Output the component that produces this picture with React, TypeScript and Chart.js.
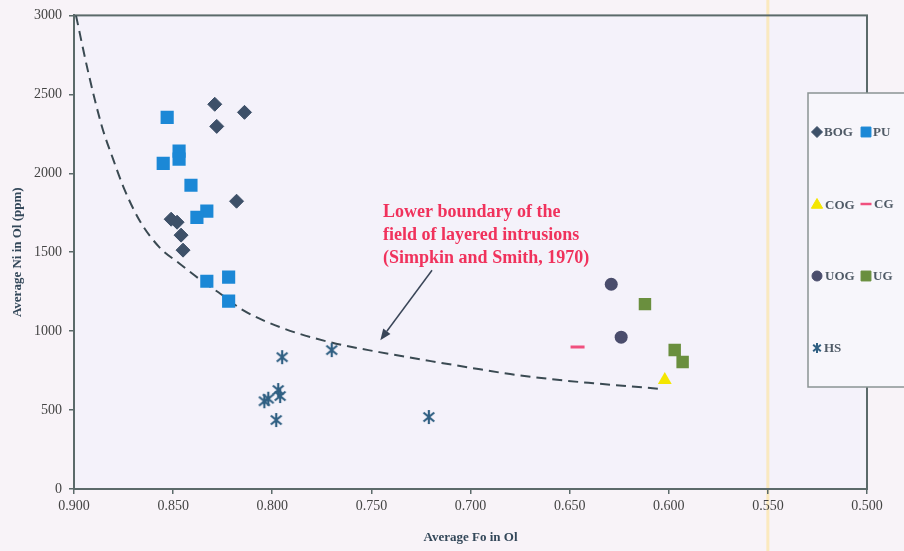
import React, { useEffect, useRef } from 'react';
import { Chart, registerables } from 'chart.js';
import { drawPoint } from 'chart.js/helpers';

Chart.register(...registerables);

// ---- data ----
const bogFo = [0.829, 0.828, 0.814, 0.818, 0.851, 0.848, 0.846, 0.845];
const bogNi = [2437, 2297, 2386, 1823, 1709, 1690, 1608, 1513];

const puFo = [0.853, 0.847, 0.847, 0.855, 0.841, 0.833, 0.838, 0.822, 0.833, 0.822];
const puNi = [2354, 2140, 2090, 2063, 1924, 1760, 1721, 1342, 1316, 1190];

const cogFo = [0.602];
const cogNi = [690];

const cgFo = [0.646];
const cgNi = [899];

const uogFo = [0.629, 0.624];
const uogNi = [1297, 962];

const ugFo = [0.612, 0.597, 0.593];
const ugNi = [1171, 880, 804];

const hsFo = [0.795, 0.770, 0.797, 0.796, 0.804, 0.802, 0.798, 0.721];
const hsNi = [835, 880, 627, 589, 556, 572, 437, 456];

const curveFo = [0.899, 0.893, 0.886, 0.880, 0.875, 0.867, 0.857, 0.847, 0.836, 0.826, 0.815, 0.796, 0.771, 0.746, 0.720, 0.700, 0.680, 0.655, 0.638, 0.621, 0.603];
const curveNi = [3000, 2650, 2300, 2080, 1911, 1703, 1532, 1430, 1323, 1235, 1135, 1025, 930, 867, 810, 768, 728, 690, 670, 652, 633];

const annotationLines = ['Lower boundary of the', 'field of layered intrusions', '(Simpkin and Smith, 1970)'];

const xTicksMin = 0.5;
const xTicksMax = 0.9;
const yTicksMin = 0;
const yTicksMax = 3000;

const pts = (xs: number[], ys: number[]) => xs.map((x, i) => ({ x, y: ys[i] }));

const C_BOG = '#3d5068';
const C_PU = '#1b88d6';
const C_COG = '#f4e600';
const C_CG = '#f0507e';
const C_UOG = '#4a4d6c';
const C_UG = '#6a8f3e';
const C_HS = '#2f5f82';
const AXIS = '#5b6a6a';
const SERIF = '"Liberation Serif", "DejaVu Serif", serif';

function makeAsterisk(size: number, color: string, lw: number) {
  const c = document.createElement('canvas');
  c.width = size;
  c.height = size;
  const ctx = c.getContext('2d')!;
  ctx.strokeStyle = color;
  ctx.lineWidth = lw;
  ctx.lineCap = 'butt';
  const m = size / 2;
  const r = size / 2 - 1;
  ctx.beginPath();
  ctx.moveTo(m, m - r);
  ctx.lineTo(m, m + r);
  const a = (50 * Math.PI) / 180;
  ctx.moveTo(m - r * Math.sin(a), m - r * Math.cos(a));
  ctx.lineTo(m + r * Math.sin(a), m + r * Math.cos(a));
  ctx.moveTo(m + r * Math.sin(a), m - r * Math.cos(a));
  ctx.lineTo(m - r * Math.sin(a), m + r * Math.cos(a));
  ctx.stroke();
  return c;
}

export default function App() {
  const ref = useRef<HTMLCanvasElement>(null);

  useEffect(() => {
    const canvas = ref.current!;
    const asterisk = makeAsterisk(16, C_HS, 2.2);
    const asteriskSmall = makeAsterisk(12, C_HS, 2);

    const bgPlugin = {
      id: 'bg',
      beforeDraw(chart: any) {
        const { ctx, chartArea } = chart;
        ctx.save();
        ctx.fillStyle = '#f8f3f8';
        ctx.fillRect(0, 0, chart.width, chart.height);
        ctx.fillStyle = '#f4f2fa';
        ctx.fillRect(chartArea.left, chartArea.top, chartArea.right - chartArea.left, chartArea.bottom - chartArea.top);
        const xs = chart.scales.x.getPixelForValue(0.55);
        ctx.fillStyle = 'rgba(255, 222, 120, 0.45)';
        ctx.fillRect(xs - 1.5, 0, 3, chart.height);
        ctx.restore();
      },
      beforeDatasetsDraw(chart: any) {
        const { ctx, chartArea } = chart;
        ctx.save();
        ctx.strokeStyle = AXIS;
        ctx.lineWidth = 2;
        ctx.strokeRect(chartArea.left, chartArea.top, chartArea.right - chartArea.left, chartArea.bottom - chartArea.top);
        ctx.restore();
      },
      afterDatasetsDraw(chart: any) {
        const { ctx } = chart;
        const xs = chart.scales.x;
        const ys = chart.scales.y;
        ctx.save();
        ctx.fillStyle = '#f0325c';
        ctx.font = `bold 18px ${SERIF}`;
        ctx.textAlign = 'left';
        ctx.textBaseline = 'middle';
        const tx = xs.getPixelForValue(0.7441);
        const lineVals = [1753, 1608, 1462];
        annotationLines.forEach((t, i) => ctx.fillText(t, tx, ys.getPixelForValue(lineVals[i])));
        const x0 = xs.getPixelForValue(0.7194), y0 = ys.getPixelForValue(1386);
        const x1 = xs.getPixelForValue(0.7455), y1 = ys.getPixelForValue(943);
        ctx.strokeStyle = '#3a4658';
        ctx.fillStyle = '#3a4658';
        ctx.lineWidth = 1.5;
        const ang = Math.atan2(y1 - y0, x1 - x0);
        const hl = 11;
        const bx = x1 - hl * Math.cos(ang), by = y1 - hl * Math.sin(ang);
        ctx.beginPath();
        ctx.moveTo(x0, y0);
        ctx.lineTo(bx, by);
        ctx.stroke();
        ctx.beginPath();
        ctx.moveTo(x1, y1);
        ctx.lineTo(bx + 4.5 * Math.sin(ang), by - 4.5 * Math.cos(ang));
        ctx.lineTo(bx - 4.5 * Math.sin(ang), by + 4.5 * Math.cos(ang));
        ctx.closePath();
        ctx.fill();

        const lx = 808, ly = 93, lw = 110, lh = 294;
        ctx.fillStyle = '#f7f6fb';
        ctx.fillRect(lx, ly, lw, lh);
        ctx.strokeStyle = '#8a9494';
        ctx.lineWidth = 1.5;
        ctx.strokeRect(lx, ly, lw, lh);
        ctx.font = `bold 13px ${SERIF}`;
        ctx.textBaseline = 'middle';
        const item = (style: any, color: string, radius: number, x: number, y: number, label: string, tx2: number, bw = 1) => {
          ctx.fillStyle = color;
          ctx.strokeStyle = color;
          ctx.lineWidth = bw;
          drawPoint(ctx, { pointStyle: style, radius, rotation: 0, borderWidth: bw } as any, x, y);
          ctx.fillStyle = '#4f5a66';
          ctx.fillText(label, tx2, y + 1);
        };
        item('rectRot', C_BOG, 5.5, 817, 132, 'BOG', 824);
        item('rect', C_PU, 7, 866, 132, 'PU', 873);
        item('triangle', C_COG, 6.5, 817, 205, 'COG', 825);
        item('line', C_CG, 5.5, 866, 204, 'CG', 874, 2.5);
        item('circle', C_UOG, 5, 817, 276, 'UOG', 825);
        item('rect', C_UG, 7, 866, 276, 'UG', 873);
        ctx.drawImage(asteriskSmall, 811, 342);
        ctx.fillStyle = '#4f5a66';
        ctx.fillText('HS', 824, 349);
        ctx.restore();
      },
    };

    const tickFont = { family: SERIF, size: 14 };
    const chart = new Chart(canvas, {
      type: 'scatter',
      data: {
        datasets: [
          {
            type: 'line',
            label: 'boundary',
            data: pts(curveFo, curveNi),
            borderColor: '#3a4a52',
            borderWidth: 2,
            borderDash: [10, 6],
            pointRadius: 0,
            fill: false,
            cubicInterpolationMode: 'monotone',
            order: 10,
          } as any,
          { label: 'BOG', data: pts(bogFo, bogNi), pointStyle: 'rectRot', pointRadius: 7, backgroundColor: C_BOG, borderColor: C_BOG, borderWidth: 1 },
          { label: 'PU', data: pts(puFo, puNi), pointStyle: 'rect', pointRadius: 9.3, backgroundColor: C_PU, borderColor: C_PU, borderWidth: 0 },
          { label: 'COG', data: pts(cogFo, cogNi), pointStyle: 'triangle', pointRadius: 8, backgroundColor: C_COG, borderColor: C_COG, borderWidth: 0 },
          { label: 'CG', data: pts(cgFo, cgNi), pointStyle: 'line', pointRadius: 7, backgroundColor: C_CG, borderColor: C_CG, borderWidth: 3 },
          { label: 'UOG', data: pts(uogFo, uogNi), pointStyle: 'circle', pointRadius: 6.5, backgroundColor: C_UOG, borderColor: C_UOG, borderWidth: 0 },
          { label: 'UG', data: pts(ugFo, ugNi), pointStyle: 'rect', pointRadius: 8.8, backgroundColor: C_UG, borderColor: C_UG, borderWidth: 0 },
          { label: 'HS', data: pts(hsFo, hsNi), pointStyle: asterisk as any, pointRadius: 8, backgroundColor: C_HS, borderColor: C_HS },
        ],
      },
      options: {
        animation: false,
        responsive: false,
        maintainAspectRatio: false,
        layout: { padding: { left: 0, top: 15, right: 37, bottom: 0 } },
        plugins: { legend: { display: false }, tooltip: { enabled: false } },
        scales: {
          x: {
            type: 'linear',
            reverse: true,
            min: xTicksMin,
            max: xTicksMax,
            afterFit: (s: any) => { s.height = 62; },
            ticks: { stepSize: 0.05, color: '#444444', font: tickFont, padding: 4, callback: (v: any) => Number(v).toFixed(3) },
            grid: { display: true, drawOnChartArea: false, drawTicks: true, tickLength: 5, color: AXIS, lineWidth: 1.5 },
            border: { display: true, color: AXIS, width: 2 },
            title: { display: true, text: 'Average Fo in Ol', color: '#34485a', font: { family: SERIF, size: 13, weight: 'bold' }, padding: { top: 0, bottom: 6 } },
          },
          y: {
            type: 'linear',
            min: yTicksMin,
            max: yTicksMax,
            afterFit: (s: any) => { s.width = 74; },
            ticks: { stepSize: 500, color: '#444444', font: tickFont, padding: 7, callback: (v: any) => String(Math.round(Number(v))) },
            grid: { display: true, drawOnChartArea: false, drawTicks: true, tickLength: 5, color: AXIS, lineWidth: 1.5 },
            border: { display: true, color: AXIS, width: 2 },
            title: { display: true, text: 'Average Ni in Ol (ppm)', color: '#34485a', font: { family: SERIF, size: 13, weight: 'bold' }, padding: { top: 10, bottom: 0 } },
          },
        },
      } as any,
      plugins: [bgPlugin],
    });
    return () => chart.destroy();
  }, []);

  return (
    <div style={{ position: 'fixed', left: 0, top: 0, width: 904, height: 551 }}>
      <canvas ref={ref} width={904} height={551} style={{ width: 904, height: 551, display: 'block' }} />
    </div>
  );
}
